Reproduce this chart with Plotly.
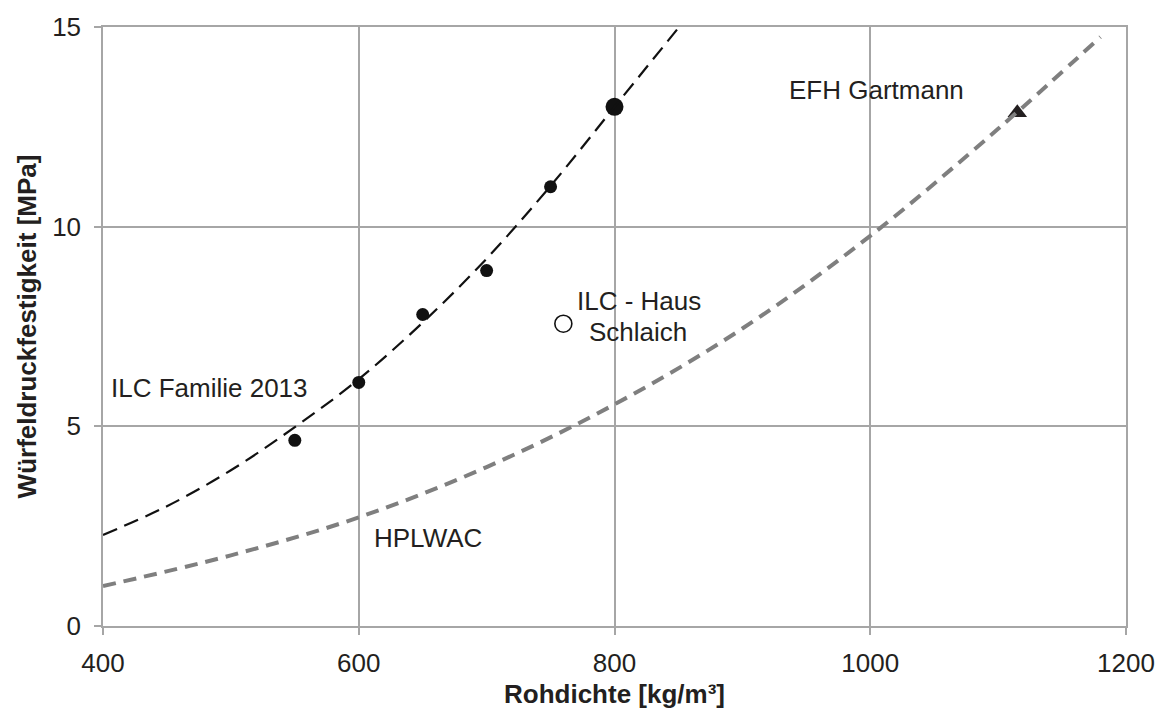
import plotly.graph_objects as go

# ILC Familie 2013 measured points
fam_x = [550, 600, 650, 700, 750]
fam_y = [4.65, 6.1, 7.8, 8.9, 11.0]
# large point
big_x = [800]
big_y = [13.0]
# ILC - Haus Schlaich
sch_x = [760]
sch_y = [7.57]
# EFH Gartmann
efh_x = [1115]
efh_y = [12.85]

# trend curve (black dashed)
tr1_x = [400, 450, 500, 550, 600, 650, 700, 750, 800, 850, 860]
tr1_y = [2.28, 3.0, 3.9, 4.98, 6.18, 7.6, 9.2, 11.02, 13.0, 14.98, 15.38]
# HPLWAC curve (grey dashed)
tr2_x = [400, 500, 600, 700, 800, 900, 1000, 1100, 1180]
tr2_y = [1.0, 1.77, 2.72, 3.98, 5.55, 7.45, 9.77, 12.45, 14.75]

x_ticks = [400, 600, 800, 1000, 1200]
y_ticks = [0, 5, 10, 15]

FONT = "Liberation Sans, Arial, sans-serif"
TXT = "#231f20"

fig = go.Figure()

fig.add_trace(go.Scatter(x=efh_x, y=efh_y, mode="markers",
                         marker=dict(symbol="triangle-up", size=17, color="#231f20"),
                         showlegend=False))
fig.add_trace(go.Scatter(x=fam_x, y=fam_y, mode="markers",
                         marker=dict(symbol="circle", size=13, color="#111111"),
                         showlegend=False))
fig.add_trace(go.Scatter(x=big_x, y=big_y, mode="markers",
                         marker=dict(symbol="circle", size=18, color="#111111"),
                         showlegend=False))
fig.add_trace(go.Scatter(x=sch_x, y=sch_y, mode="markers",
                         marker=dict(symbol="circle", size=17, color="white",
                                     line=dict(color="#111111", width=1.6)),
                         showlegend=False))
fig.add_trace(go.Scatter(x=tr2_x, y=tr2_y, mode="lines", line_shape="spline",
                         line=dict(color="#7f7f7f", width=4, dash="13px,8px"),
                         showlegend=False))
fig.add_trace(go.Scatter(x=tr1_x, y=tr1_y, mode="lines", line_shape="spline",
                         line=dict(color="#111111", width=2.2, dash="15px,8px"),
                         showlegend=False))

ann_font = dict(family=FONT, size=26, color=TXT)
annotations = [
    dict(x=483, y=5.97, text="ILC Familie 2013"),
    dict(x=654, y=2.2, text="HPLWAC"),
    dict(x=819.5, y=8.13, text="ILC - Haus"),
    dict(x=818.5, y=7.37, text="Schlaich"),
    dict(x=1004.5, y=13.43, text="EFH Gartmann"),
]
for a in annotations:
    a.update(xref="x", yref="y", showarrow=False, xanchor="center",
             yanchor="middle", font=ann_font)

axis_common = dict(
    showgrid=True, gridcolor="#a6a6a6", gridwidth=1.5,
    showline=True, linecolor="#a6a6a6", linewidth=1.5, mirror=True,
    ticks="outside", ticklen=7, tickcolor="#a6a6a6", tickwidth=1.5,
    zeroline=False,
    tickfont=dict(family=FONT, size=26, color=TXT),
)

fig.update_layout(
    width=1167, height=716,
    margin=dict(l=103, r=36, t=22, b=87),
    paper_bgcolor="white", plot_bgcolor="white",
    annotations=annotations,
    xaxis=dict(range=[400, 1200], tickvals=x_ticks, ticklabelstandoff=6,
               title=dict(text="<b>Rohdichte [kg/m³]</b>", standoff=8,
                          font=dict(family=FONT, size=26, color=TXT)),
               **axis_common),
    yaxis=dict(range=[0, 15], tickvals=y_ticks, ticklabelstandoff=8,
               title=dict(text="<b>Würfeldruckfestigkeit [MPa]</b>", standoff=8,
                          font=dict(family=FONT, size=26, color=TXT)),
               **axis_common),
)

fig.write_html("out.html", config={"displayModeBar": False},
               post_script="document.body.style.margin='0px';document.body.style.overflow='hidden';")
